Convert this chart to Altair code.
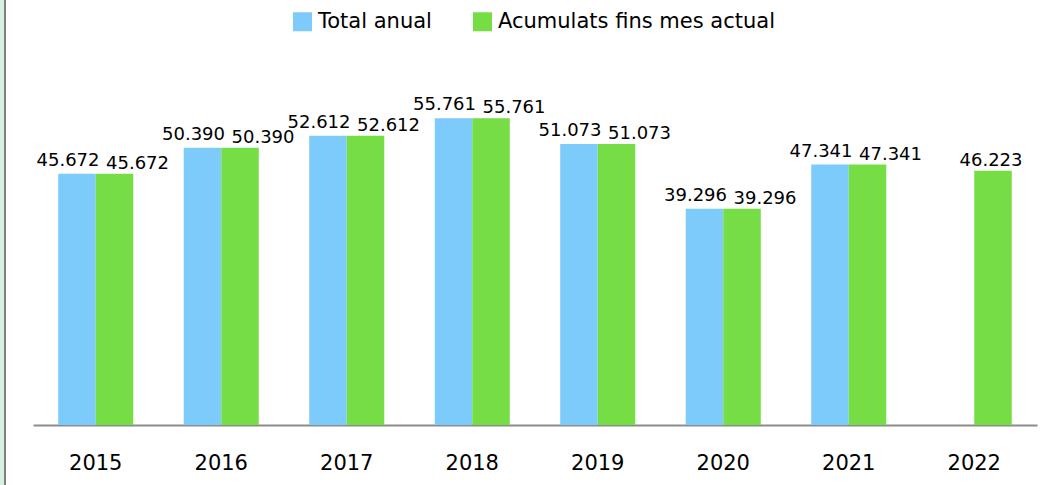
import altair as alt
import pandas as pd

years = ["2015", "2016", "2017", "2018", "2019", "2020", "2021", "2022"]
total_anual = [45.672, 50.390, 52.612, 55.761, 51.073, 39.296, 47.341, None]
acumulats = [45.672, 50.390, 52.612, 55.761, 51.073, 39.296, 47.341, 46.223]
series_names = ["Total anual", "Acumulats fins mes actual"]
colors = ["#7DCBFB", "#77DD45"]

rows = []
for y, a, b in zip(years, total_anual, acumulats):
    if a is not None:
        rows.append({"year": y, "serie": series_names[0], "value": a, "paired": True})
    if b is not None:
        rows.append({"year": y, "serie": series_names[1], "value": b, "paired": a is not None})
df = pd.DataFrame(rows)
df["label"] = df["value"].map(lambda v: f"{v:.3f}")

FONT = "DejaVu Sans"

x_enc = alt.X("year:N", sort=years,
              scale=alt.Scale(paddingInner=0.402, paddingOuter=0.201),
              axis=alt.Axis(title=None, labelAngle=0, ticks=False, labelFontSize=21,
                            labelFont=FONT, labelColor="#000000", labelPadding=27,
                            domainColor="#8C8C8C", domainWidth=2, grid=False))
xoff = alt.XOffset("serie:N", sort=series_names,
                   scale=alt.Scale(domain=series_names, paddingInner=0, paddingOuter=0))
y_enc = alt.Y("value:Q", scale=alt.Scale(domain=[0, 60], nice=False), axis=None)

base = alt.Chart(df)

bars = base.mark_bar(strokeWidth=0).encode(
    x=x_enc, xOffset=xoff, y=y_enc,
    color=alt.Color("serie:N", sort=series_names,
                    scale=alt.Scale(domain=series_names, range=colors),
                    legend=alt.Legend(title=None, orient="none", direction="horizontal",
                                      legendX=259, legendY=-84, padding=0,
                                      symbolType="square", symbolSize=361,
                                      symbolStrokeWidth=0, labelFontSize=21,
                                      labelFont=FONT, labelColor="#000000",
                                      labelLimit=1000,
                                      labelOffset=5, columnPadding=40)),
)

text_common = dict(fontSize=18, font=FONT, color="#000000", baseline="alphabetic", align="center")

blue_text = base.transform_filter(alt.datum.serie == series_names[0]).mark_text(
    dx=-9, dy=-8, **text_common
).encode(x=x_enc, xOffset=xoff, y=y_enc, text="label:N")

green_pair_text = base.transform_filter(
    (alt.datum.serie == series_names[1]) & alt.datum.paired
).mark_text(dx=23, dy=-5, **text_common).encode(x=x_enc, xOffset=xoff, y=y_enc, text="label:N")

green_single_text = base.transform_filter(
    (alt.datum.serie == series_names[1]) & (alt.datum.paired == False)
).mark_text(dx=-2, dy=-5, **text_common).encode(x=x_enc, xOffset=xoff, y=y_enc, text="label:N")

frame_fill = alt.Chart(pd.DataFrame({"k": [0]})).mark_rect(color="#D6EFE0").encode(
    x=alt.value(-33), x2=alt.value(-29), y=alt.value(-95), y2=alt.value(390))
frame_line = alt.Chart(pd.DataFrame({"k": [0]})).mark_rule(color="#7F7F7F", strokeWidth=2).encode(
    x=alt.value(-28), y=alt.value(-95), y2=alt.value(390))

chart = alt.layer(frame_fill, frame_line, bars, blue_text, green_pair_text, green_single_text).properties(
    width=1004, height=330,
    background="#FFFFFF",
    autosize=alt.AutoSizeParams(type="none"),
    padding={"left": 33, "top": 95, "right": 26, "bottom": 60},
).configure_view(strokeWidth=0, stroke="transparent")

chart.save("out.html", embed_options={"renderer": "svg", "actions": False})
